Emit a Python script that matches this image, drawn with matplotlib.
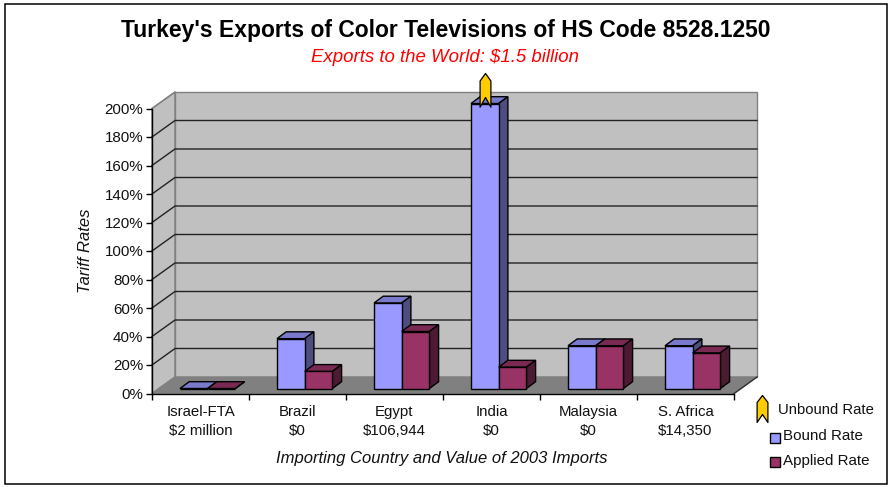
import numpy as np
import matplotlib
matplotlib.use("Agg")
import matplotlib.pyplot as plt
from matplotlib.patches import Polygon, Rectangle
from matplotlib.path import Path

plt.rcParams['font.family'] = ['Liberation Sans', 'DejaVu Sans']

countries = ["Israel-FTA", "Brazil", "Egypt", "India", "Malaysia", "S. Africa"]
imports_2003 = ["$2 million", "$0", "$106,944", "$0", "$0", "$14,350"]
bound_rate = [0, 35, 60, 200, 30, 30]
applied_rate = [0, 12, 40, 15, 30, 25]
unbound_flag = [None, None, None, 200, None, None]
y_ticks = [0, 20, 40, 60, 80, 100, 120, 140, 160, 180, 200]

W, H = 894, 487
PL, PR, PB, PT = 152, 734, 393.5, 108.5  # front plane, pixels
fig = plt.figure(figsize=(W / 100, H / 100), dpi=100, facecolor='white')
fig.add_artist(Rectangle((5 / W, 1 - 484 / H), 882 / W, 480 / H, transform=fig.transFigure,
                         fill=False, ec='black', lw=1.1))
ax = fig.add_axes([PL / W, 1 - PB / H, (PR - PL) / W, (PB - PT) / H], facecolor='none')
ax.set_xlim(0, len(countries))
ax.set_ylim(0, 200)

xu = (PR - PL) / len(countries)  # px per category
yu = (PB - PT) / 200             # px per percent
DX, DY = 23 / xu, 16.5 / yu      # wall depth
dx, dy = 9.2 / xu, 6.8 / yu      # bar depth
bx, by = 7.0 / xu, 5.0 / yu      # bar plane offset
bw = 27.7 / xu
lead = 21.0 / xu

n = len(countries)
# walls and floor
ax.add_patch(Polygon([(0, 0), (DX, DY), (DX, 200 + DY), (0, 200)], fc='#C0C0C0', ec='#808080', lw=1, clip_on=False, zorder=1))
ax.add_patch(Polygon([(DX, DY), (n + DX, DY), (n + DX, 200 + DY), (DX, 200 + DY)], fc='#C0C0C0', ec='#808080', lw=1, clip_on=False, zorder=1))
ax.add_patch(Polygon([(0, 0), (n, 0), (n + DX, DY), (DX, DY)], fc='#808080', ec='#808080', lw=1, clip_on=False, zorder=1))
ax.plot([n, n + DX], [0, DY], color='#333333', lw=1, clip_on=False, zorder=1.5)
for t in y_ticks[1:-1]:
    ax.plot([0, DX, n + DX], [t, t + DY, t + DY], color='#222222', lw=1, clip_on=False, zorder=1.5)
ax.plot([0, DX], [200, 200 + DY], color='#808080', lw=1, clip_on=False, zorder=1.5)


def bar3d(x0, value, front, top, side, z):
    y0 = by
    ax.bar(x0, value, width=bw, bottom=y0, align='edge', color=front, edgecolor='black', lw=1, zorder=z + .2, clip_on=False)
    x1 = x0 + bw
    y1 = y0 + value
    ax.add_patch(Polygon([(x0, y1), (x1, y1), (x1 + dx, y1 + dy), (x0 + dx, y1 + dy)], fc=top, ec='black', lw=1, clip_on=False, zorder=z + .1))
    ax.add_patch(Polygon([(x1, y0), (x1 + dx, y0 + dy), (x1 + dx, y1 + dy), (x1, y1)], fc=side, ec='black', lw=1, clip_on=False, zorder=z + .1))


for i in range(n):
    x0 = i + lead + bx
    bar3d(x0, bound_rate[i], '#9999FF', '#7A7ACC', '#4D4D80', 3 + i)
    bar3d(x0 + bw, applied_rate[i], '#993366', '#7A2952', '#4D1A33', 3.5 + i)

# unbound rate marker (origin sits on top of the bar)
arrow = Path([(0, 31), (5.4, 23.5), (5.4, -2.7), (0, 7), (-5.4, -2.7), (-5.4, 23.5), (0, 31)], closed=True)
for i, u in enumerate(unbound_flag):
    if u is not None:
        ax.plot([i + lead + bx + bw / 2], [u + by], marker=arrow, ms=62 * .72, mfc='#FFCC00', mec='black', mew=0.9,
                ls='none', clip_on=False, zorder=20)

# axes
for s in ('top', 'right'):
    ax.spines[s].set_visible(False)
for s in ('left', 'bottom'):
    ax.spines[s].set_zorder(2)
    ax.spines[s].set_linewidth(1)
ax.set_yticks(y_ticks)
ax.set_yticklabels([f"{t}%" for t in y_ticks], fontsize=10.9, color='#111111')
ax.tick_params(axis='y', length=4.3, width=1, pad=2)
ax.set_xticks(range(n + 1))
ax.set_xticklabels([])
ax.tick_params(axis='x', which='major', length=4.3, width=1)
ax.set_xticks(np.arange(n) + 0.5, minor=True)
ax.set_xticklabels([f"{c}\n{v}" for c, v in zip(countries, imports_2003)], minor=True, fontsize=10.8, color='#111111', linespacing=1.5)
ax.tick_params(axis='x', which='minor', length=0, pad=8)


def ftext(px, py, s, **kw):
    fig.text(px / W, 1 - py / H, s, **kw)


ftext(446, 31, "Turkey's Exports of Color Televisions of HS Code 8528.1250", fontsize=16.5, fontweight='bold', ha='center', va='center', color='black')
ftext(445, 57, "Exports to the World: $1.5 billion", fontsize=13.4, style='italic', color='#FF0000', ha='center', va='center')
ftext(85, 251, "Tariff Rates", fontsize=12, style='italic', rotation=90, ha='center', va='center', color='#111111')
ftext(442, 458, "Importing Country and Value of 2003 Imports", fontsize=12, style='italic', ha='center', va='center', color='#111111')

# legend
lax = fig.add_axes([0, 0, 1, 1], facecolor='none')
lax.set_xlim(0, W)
lax.set_ylim(H, 0)
lax.axis('off')
arrow2 = Path([(0, 25), (5.4, 18), (5.4, -2), (0, 6), (-5.4, -2), (-5.4, 18), (0, 25)], closed=True)
lax.plot([762], [420], marker=arrow2, ms=50 * .72, mfc='#FFCC00', mec='black', mew=0.9, ls='none')
lax.add_patch(Rectangle((770, 433), 10, 10, fc='#9999FF', ec='black', lw=1))
lax.add_patch(Rectangle((770, 457), 10, 10, fc='#993366', ec='black', lw=1))
ftext(777.5, 410, "Unbound Rate", fontsize=10.7, va='center', ha='left', color='#111111')
ftext(783, 436, "Bound Rate", fontsize=10.9, va='center', ha='left', color='#111111')
ftext(783, 461, "Applied Rate", fontsize=10.9, va='center', ha='left', color='#111111')

fig.savefig('out.png', dpi=100)
